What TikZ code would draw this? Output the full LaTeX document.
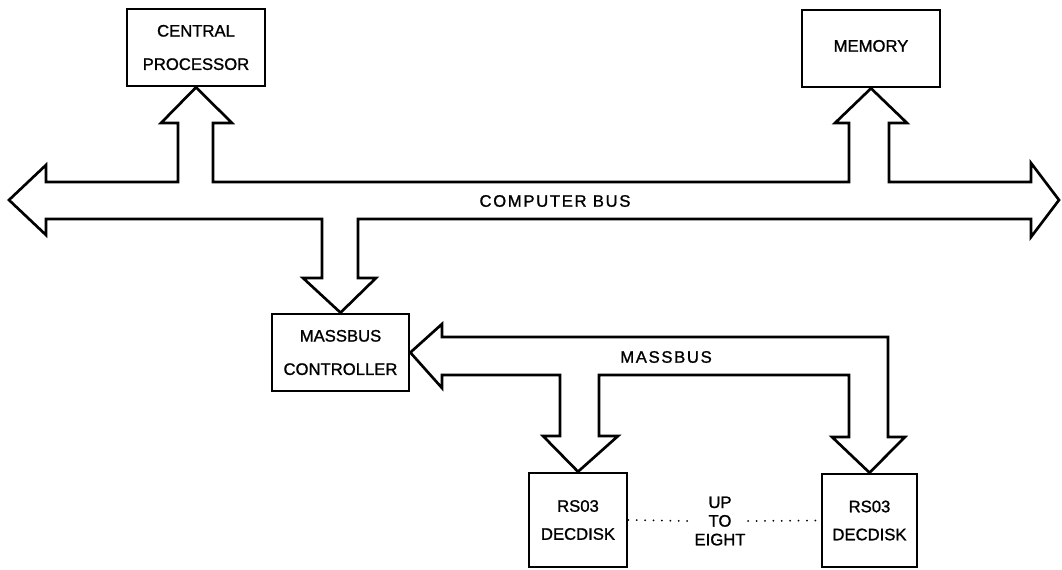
\documentclass[tikz,border=0pt]{standalone}
\usepackage{fontspec}
\setmainfont{Liberation Sans}[FakeBold=1.2]
\tikzset{every picture/.style={line width=2pt}}
\tikzset{unitbox/.style={draw, line width=2pt, inner sep=0pt, align=center, font=\fontsize{12.5}{25}\selectfont},
  busline/.style={line width=2pt, line join=miter},
  buslabel/.style={inner sep=1pt, font=\fontsize{12.5}{15}\selectfont\addfontfeature{LetterSpace=10}},
  dotline/.style={line width=1.5pt, line cap=round, dash pattern=on 0pt off 6.3pt}}

\begin{document}
\begin{tikzpicture}[x=0.75pt,y=0.75pt,yscale=-1,xscale=1]
\useasboundingbox (0,0) rectangle (1062,569);

%Shape: Boxes
\node [unitbox, minimum width=103.5pt, minimum height=57.75pt] (cpu) at (196,47.5) {CENTRAL\\PROCESSOR};
\node [unitbox, minimum width=103.5pt, minimum height=57.75pt] (mem) at (871,48.5) {\raisebox{4pt}{MEMORY}};
\node [unitbox, minimum width=102.75pt, minimum height=57.75pt] (mbc) at (340.5,352.5) {MASSBUS\\CONTROLLER};
\node [unitbox, font=\fontsize{12.5}{21}\selectfont, minimum width=73.5pt, minimum height=70.5pt] (disk1) at (578,520) {RS03\\DECDISK};
\node [unitbox, font=\fontsize{12.5}{21}\selectfont, minimum width=71.25pt, minimum height=69.75pt] (disk2) at (869.5,520.5) {RS03\\DECDISK};

%Shape: Computer bus
\draw [busline] (9,200) -- (46,165) -- (46,182) -- (178,182) -- (178,123) -- (161,123) -- (cpu.south) -- (232,123) -- (213,123) -- (213,182)
  -- (849,182) -- (849,123) -- (835,123) -- (mem.south) -- (907,123) -- (889,123) -- (889,182)
  -- (1031,182) -- (1031,163) -- (1059,200) -- (1031,237) -- (1031,219)
  -- (358,219) -- (358,278) -- (376,278) -- (mbc.north) -- (303,278) -- (322,278) -- (322,219)
  -- (46,219) -- (46,235) -- cycle;

%Shape: Massbus
\draw [busline] (mbc.east) -- (442,324) -- (442,337) -- (888,337) -- (888,437) -- (905,437) -- (disk2.north) -- (832,437) -- (849,437) -- (849,375)
  -- (599,375) -- (599,436) -- (618,436) -- (disk1.north) -- (543,436) -- (560,436) -- (560,375)
  -- (442,375) -- (442,388) -- cycle;

% Text Node
\node [buslabel] (cbus) at (555,201) {COMPUTER BUS};
% Text Node
\node [buslabel] (mbus) at (666,357) {MASSBUS};
% Text Node
\node [align=center, inner sep=1pt, font=\fontsize{12.5}{14}\selectfont] (upto) at (720,521) {UP\\TO\\EIGHT};

%Dotted lines
\draw [dotline] (disk1.east) -- (upto.west);
\draw [dotline] (upto.east) -- (disk2.west);

\end{tikzpicture}
\end{document}
